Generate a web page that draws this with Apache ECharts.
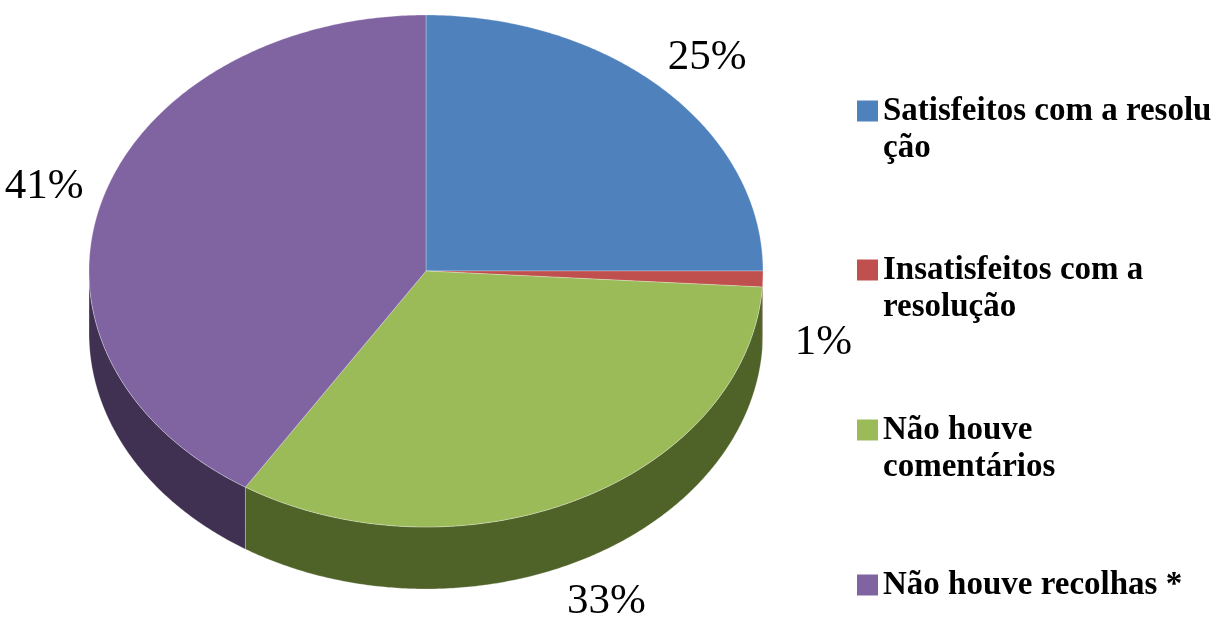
<!DOCTYPE html>
<html>
<head>
<meta charset="utf-8">
<script src="https://cdn.jsdelivr.net/npm/echarts@6/dist/echarts.min.js"></script>
<style>
    html, body{margin:0;padding:0;background:#fff;}
    #chart{width:1219px;height:630px;}
</style>
</head>
<body>
<div id="chart"></div>
<script>
var categories = ['Satisfeitos com a resolução', 'Insatisfeitos com a resolução', 'Não houve comentários', 'Não houve recolhas *'];
var legendLines = [['Satisfeitos com a resolu', 'ção'], ['Insatisfeitos com a', 'resolução'], ['Não houve', 'comentários'], ['Não houve recolhas *']];
var values = [25, 1, 33, 41];
var topColors = ['#4F81BD', '#C0504D', '#9BBB59', '#8064A2'];
var sideColors = ['#254061', '#632523', '#4F6228', '#403152'];

// layout of the tilted pie
var CX = 426, CY = 271, RX = 337, RY = 256, DEPTH = 62;
var LABEL_K = 1.18;
var LEGEND_LEFT = 857;
var LEGEND_Y = [111, 270, 430, 585];
var LINE_H = 37;

var total = values.reduce(function(a, b){ return a + b; }, 0);

function angleAt(frac){
    return -Math.PI / 2 + frac * Math.PI * 2;
}

function arcPoints(a0, a1, dy){
    var pts = [];
    var steps = Math.max(2, Math.ceil((a1 - a0) / (Math.PI / 360)));
    for(var s = 0; s <= steps; s++){
        var t = a0 + (a1 - a0) * s / steps;
        pts.push([CX + RX * Math.cos(t), CY + RY * Math.sin(t) + dy]);
    }
    return pts;
}

function renderSlice(params, api){
    var i = params.seriesIndex;
    var before = 0;
    for(var k = 0; k < i; k++){
        before += values[k];
    }
    var a0 = angleAt(before / total);
    var a1 = angleAt((before + api.value(0)) / total);
    var children = [];

    /*front wall, only the lower half of the rim shows*/
    var s0 = Math.max(a0, 0), s1 = Math.min(a1, Math.PI);
    if(s1 > s0){
        var upper = arcPoints(s0, s1, 0);
        var lower = arcPoints(s0, s1, DEPTH).reverse();
        children.push({
            type: 'polygon',
            z2: 1,
            shape: {points: upper.concat(lower)},
            style: {fill: sideColors[i], stroke: 'rgba(255,255,255,0.35)', lineWidth: 0.8}
        });
    }

    var top = [[CX, CY]].concat(arcPoints(a0, a1, 0));
    children.push({
        type: 'polygon',
        z2: 2,
        shape: {points: top},
        style: {fill: topColors[i], stroke: 'rgba(255,255,255,0.35)', lineWidth: 0.8}
    });

    var mid = (a0 + a1) / 2;
    var lx = CX + RX * LABEL_K * Math.cos(mid);
    var ly = CY + RY * LABEL_K * Math.sin(mid) + (Math.sin(mid) > 0 ? DEPTH : 0);
    children.push({
        type: 'text',
        z2: 3,
        style: {
            text: Math.round(api.value(0) / total * 100) + '%',
            x: lx,
            y: ly,
            align: 'center',
            verticalAlign: 'middle',
            fill: '#000',
            fontSize: 43,
            fontFamily: '"Liberation Serif", "Times New Roman", serif'
        }
    });
    return {type: 'group', children: children};
}

var series = categories.map(function(name, i){
    return {
        type: 'custom',
        name: name,
        coordinateSystem: 'none',
        silent: true,
        animation: false,
        data: [[values[i]]],
        renderItem: renderSlice
    };
});

var legends = categories.map(function(name, i){
    var lines = legendLines[i];
    // a leading blank line keeps the marker beside the first line
    var text = lines.length > 1 ? '\n' + lines.join('\n') : lines[0];
    var n = lines.length > 1 ? lines.length + 1 : 1;
    return {
        data: [name],
        left: LEGEND_LEFT,
        top: LEGEND_Y[i] - n * LINE_H / 2,
        orient: 'vertical',
        padding: 0,
        icon: 'rect',
        itemWidth: 21,
        itemHeight: 21,
        selectedMode: false,
        formatter: function(){ return text; },
        textStyle: {
            fontFamily: '"Liberation Serif", "Times New Roman", serif',
            fontWeight: 'bold',
            fontSize: 33,
            lineHeight: LINE_H,
            color: '#000'
        }
    };
});

var myChart = echarts.init(document.getElementById('chart'));
myChart.setOption({
    backgroundColor: '#fff',
    animation: false,
    color: topColors,
    legend: legends,
    series: series
});
</script>
</body>
</html>
